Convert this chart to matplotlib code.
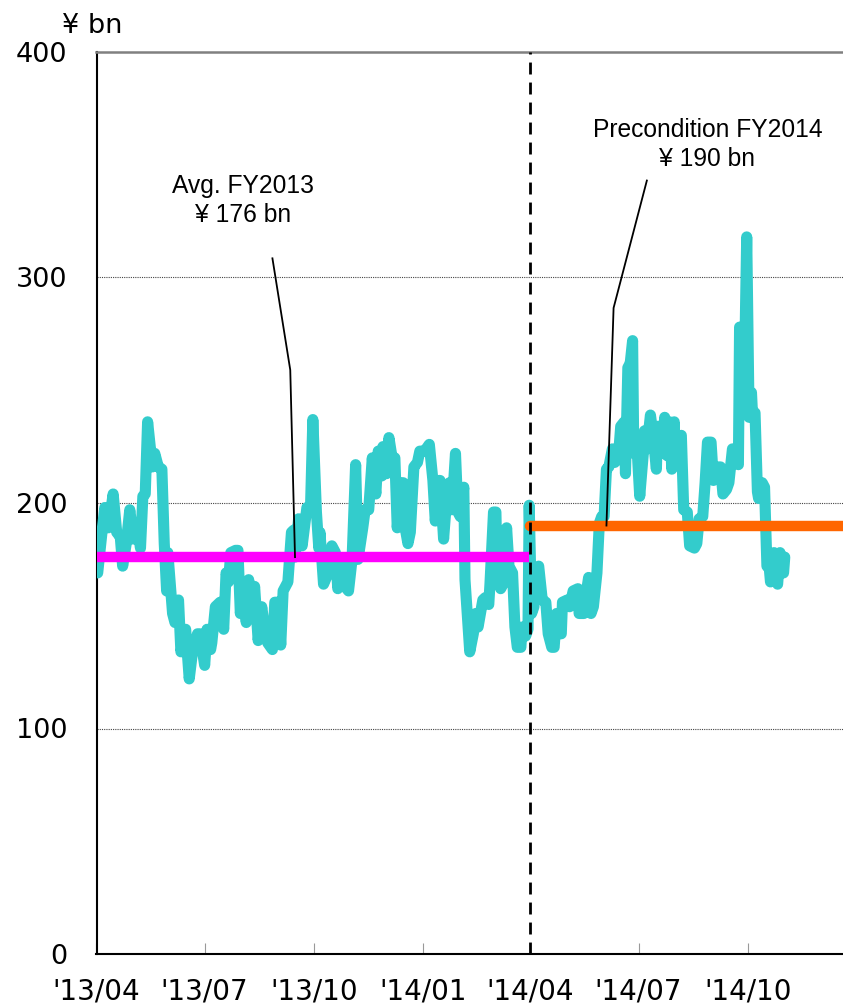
import matplotlib
matplotlib.use("Agg")
import matplotlib.pyplot as plt
import pandas as pd

# Daily balance (¥ bn), FY2013 - FY2014
dates = [
    "2013-04-02", "2013-04-06", "2013-04-08", "2013-04-11", "2013-04-15", "2013-04-18",
    "2013-04-21", "2013-04-23", "2013-04-26", "2013-04-29", "2013-05-02", "2013-05-05",
    "2013-05-08", "2013-05-10", "2013-05-12", "2013-05-14", "2013-05-18", "2013-05-20",
    "2013-05-23", "2013-05-26", "2013-05-28", "2013-05-30", "2013-05-31", "2013-06-04",
    "2013-06-06", "2013-06-09", "2013-06-11", "2013-06-15", "2013-06-18", "2013-06-21",
    "2013-06-25", "2013-06-27", "2013-06-29", "2013-07-01", "2013-07-03", "2013-07-06",
    "2013-07-07", "2013-07-10", "2013-07-14", "2013-07-17", "2013-07-19", "2013-07-21",
    "2013-07-23", "2013-07-27", "2013-07-29", "2013-07-31", "2013-08-02", "2013-08-05",
    "2013-08-07", "2013-08-10", "2013-08-12", "2013-08-15", "2013-08-18", "2013-08-21",
    "2013-08-23", "2013-08-27", "2013-08-29", "2013-09-01", "2013-09-03", "2013-09-05",
    "2013-09-09", "2013-09-12", "2013-09-14", "2013-09-15", "2013-09-18", "2013-09-21",
    "2013-09-25", "2013-09-28", "2013-09-30", "2013-10-03", "2013-10-05", "2013-10-06",
    "2013-10-09", "2013-10-13", "2013-10-16", "2013-10-19", "2013-10-21", "2013-10-25",
    "2013-10-27", "2013-10-30", "2013-11-02", "2013-11-05", "2013-11-07", "2013-11-11",
    "2013-11-13", "2013-11-16", "2013-11-19", "2013-11-22", "2013-11-24", "2013-11-27",
    "2013-11-28", "2013-12-01", "2013-12-03", "2013-12-06", "2013-12-08", "2013-12-10",
    "2013-12-13", "2013-12-15", "2013-12-17", "2013-12-19", "2013-12-21", "2013-12-24",
    "2013-12-27", "2013-12-29", "2014-01-02", "2014-01-06", "2014-01-09", "2014-01-11",
    "2014-01-14", "2014-01-15", "2014-01-18", "2014-01-20", "2014-01-23", "2014-01-25",
    "2014-01-28", "2014-01-30", "2014-02-01", "2014-02-04", "2014-02-05", "2014-02-07",
    "2014-02-09", "2014-02-12", "2014-02-14", "2014-02-16", "2014-02-20", "2014-02-22",
    "2014-02-25", "2014-02-26", "2014-03-01", "2014-03-03", "2014-03-04", "2014-03-07",
    "2014-03-09", "2014-03-12", "2014-03-14", "2014-03-17", "2014-03-19", "2014-03-21",
    "2014-03-24", "2014-03-25", "2014-03-28", "2014-03-30", "2014-03-31", "2014-04-02",
    "2014-04-04", "2014-04-06", "2014-04-08", "2014-04-11", "2014-04-14", "2014-04-16",
    "2014-04-19", "2014-04-21", "2014-04-23", "2014-04-25", "2014-04-27", "2014-04-28",
    "2014-05-02", "2014-05-04", "2014-05-07", "2014-05-11", "2014-05-12", "2014-05-16",
    "2014-05-18", "2014-05-20", "2014-05-22", "2014-05-24", "2014-05-27", "2014-05-29",
    "2014-05-31", "2014-06-02", "2014-06-04", "2014-06-06", "2014-06-09", "2014-06-11",
    "2014-06-14", "2014-06-16", "2014-06-19", "2014-06-20", "2014-06-22", "2014-06-24",
    "2014-06-26", "2014-06-27", "2014-06-30", "2014-07-02", "2014-07-05", "2014-07-06",
    "2014-07-08", "2014-07-11", "2014-07-13", "2014-07-16", "2014-07-17", "2014-07-20",
    "2014-07-21", "2014-07-23", "2014-07-25", "2014-07-27", "2014-07-29", "2014-07-31",
    "2014-08-01", "2014-08-04", "2014-08-06", "2014-08-08", "2014-08-11", "2014-08-13",
    "2014-08-17", "2014-08-19", "2014-08-21", "2014-08-24", "2014-08-26", "2014-08-28",
    "2014-08-31", "2014-09-02", "2014-09-06", "2014-09-08", "2014-09-10", "2014-09-13",
    "2014-09-15", "2014-09-18", "2014-09-20", "2014-09-21", "2014-09-23", "2014-09-24",
    "2014-09-27", "2014-09-28", "2014-09-30", "2014-10-02", "2014-10-04", "2014-10-05",
    "2014-10-07", "2014-10-09", "2014-10-10", "2014-10-13", "2014-10-15", "2014-10-17",
    "2014-10-19", "2014-10-20", "2014-10-23", "2014-10-25", "2014-10-26", "2014-10-28",
    "2014-10-31", "2014-11-01",
]
balance = [
    169, 189, 198, 189, 204, 187,
    185, 172, 182, 197, 184, 191,
    180, 203, 204, 236, 216, 222,
    216, 215, 182, 161, 178, 151,
    147, 157, 134, 144, 122, 135,
    142, 142, 135, 128, 144, 135,
    138, 154, 156, 144, 169, 165,
    178, 179, 179, 151, 160, 147,
    166, 151, 163, 139, 154, 142,
    138, 135, 156, 156, 137, 161,
    165, 187, 188, 176, 193, 181,
    198, 197, 237, 196, 180, 187,
    164, 169, 181, 178, 162, 173,
    163, 161, 175, 217, 175, 189,
    197, 197, 220, 204, 223, 212,
    225, 213, 229, 219, 220, 189,
    209, 209, 188, 182, 187, 216,
    218, 223, 223, 226, 210, 192,
    210, 210, 184, 198, 209, 197,
    222, 196, 194, 207, 166, 150,
    134, 142, 151, 145, 157, 158,
    155, 164, 196, 196, 169, 162,
    164, 189, 172, 169, 145, 136,
    136, 145, 141, 144, 199, 151,
    154, 170, 172, 157, 156, 142,
    136, 136, 151, 142, 142, 156,
    157, 154, 161, 162, 151, 151,
    160, 167, 151, 154, 169, 191,
    194, 194, 215, 216, 224, 218,
    220, 234, 236, 213, 260, 262,
    272, 222, 222, 203, 222, 232,
    224, 239, 231, 215, 234, 234,
    222, 238, 221, 236, 215, 236,
    219, 229, 230, 197, 196, 181,
    180, 182, 193, 194, 209, 227,
    227, 210, 216, 216, 204, 206,
    209, 224, 224, 218, 217, 278,
    278, 254, 318, 238, 249, 238,
    240, 205, 202, 209, 207, 172,
    171, 165, 178, 165, 164, 178,
    169, 176,
]

fy2013_avg = 176
fy2014_precondition = 190
fy2013_span = ["2013-04-01", "2014-03-31"]
fy2014_span = ["2014-04-01", "2014-12-20"]
fy_boundary = "2014-04-01"

tick_dates = ["2013-04-01", "2013-07-01", "2013-10-01", "2014-01-01",
              "2014-04-01", "2014-07-01", "2014-10-01"]
tick_labels = ["'13/04", "'13/07", "'13/10", "'14/01", "'14/04", "'14/07", "'14/10"]
y_ticks = [0, 100, 200, 300, 400]

W, H = 843, 1007
fig = plt.figure(figsize=(W / 100, H / 100), dpi=100)
left = 96.5 / W
ax = fig.add_axes([left, 53 / H, 1 - left, 902 / H])

x = pd.to_datetime(dates)
ax.plot(x, balance, color="#33CCCC", lw=8, solid_joinstyle="round",
        solid_capstyle="round", zorder=3)

# Average / precondition levels
ax.plot(pd.to_datetime(fy2013_span), [fy2013_avg, fy2013_avg], color="#FF00FF",
        lw=7.5, solid_capstyle="butt", zorder=4)
ax.plot(pd.to_datetime(fy2014_span), [fy2014_precondition, fy2014_precondition],
        color="#FF6600", lw=7.5, solid_capstyle="round", zorder=4)

# Fiscal-year boundary
bd = pd.Timestamp(fy_boundary)
ax.plot([bd, bd], [0, 400], color="black", lw=2.0, linestyle=(0, (4.3, 2.9)),
        zorder=5, clip_on=False)

# Grid at 100/200/300
for v in y_ticks[1:-1]:
    ax.axhline(v, color="#444444", lw=0.8, linestyle=(0, (1, 1)), zorder=1)

ax.set_ylim(0, 400)
ax.set_xlim(pd.Timestamp("2013-04-01"), pd.Timestamp("2014-12-20"))
ax.set_yticks(y_ticks)
ax.set_yticklabels([str(v) for v in y_ticks], fontsize=19.5)
ax.tick_params(axis="y", length=0, pad=21)
ax.set_xticks(pd.to_datetime(tick_dates))
ax.set_xticklabels(tick_labels, fontsize=20)
ax.tick_params(axis="x", direction="in", length=8, width=0.8, color="#999999", pad=17)

for side in ("left", "bottom"):
    ax.spines[side].set_color("black")
    ax.spines[side].set_linewidth(1.5)
ax.spines["top"].set_color("#808080")
ax.spines["top"].set_linewidth(1.8)
ax.spines["right"].set_visible(False)

# Leader lines and callouts
ann_font = ["Liberation Sans", "DejaVu Sans"]
ax.plot(pd.to_datetime(["2013-08-27", "2013-09-11", "2013-09-15"]),
        [308.5, 259, fy2013_avg], color="black", lw=1.3, zorder=6)
ax.text(pd.Timestamp("2013-08-02"), 334, f"Avg. FY2013\n¥ {fy2013_avg} bn",
        ha="center", va="center", fontsize=17.7, family=ann_font, linespacing=1.25)

ax.plot(pd.to_datetime(["2014-07-08", "2014-06-10", "2014-06-04"]),
        [343, 286.5, fy2014_precondition], color="black", lw=1.3, zorder=6)
ax.text(pd.Timestamp("2014-08-28"), 359, f"Precondition FY2014\n¥ {fy2014_precondition} bn",
        ha="center", va="center", fontsize=17.7, family=ann_font, linespacing=1.25)

fig.text(62 / W, 1 - 26 / H, "¥ bn", ha="left", va="center", fontsize=19.5)

fig.savefig("out.png", dpi=100)
